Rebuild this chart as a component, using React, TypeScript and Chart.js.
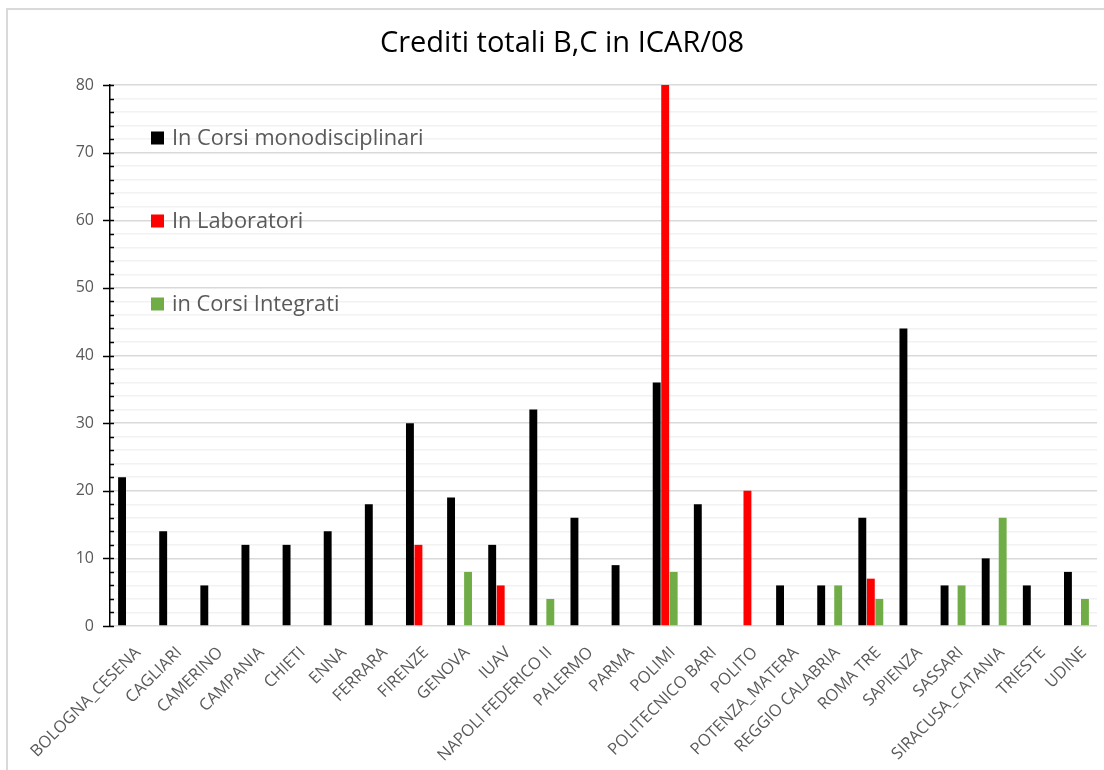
import React, { useEffect, useRef } from "react";
import { Chart, registerables } from "chart.js";

Chart.register(...registerables);

const chartTitle = "Crediti totali B,C in ICAR/08";

const categories = [
  "BOLOGNA_CESENA", "CAGLIARI", "CAMERINO", "CAMPANIA", "CHIETI", "ENNA",
  "FERRARA", "FIRENZE", "GENOVA", "IUAV", "NAPOLI FEDERICO II", "PALERMO",
  "PARMA", "POLIMI", "POLITECNICO BARI", "POLITO", "POTENZA_MATERA",
  "REGGIO CALABRIA", "ROMA TRE", "SAPIENZA", "SASSARI", "SIRACUSA_CATANIA",
  "TRIESTE", "UDINE",
];

const monodisciplinari = [22, 14, 6, 12, 12, 14, 18, 30, 19, 12, 32, 16, 9, 36, 18, null, 6, 6, 16, 44, 6, 10, 6, 8];
const laboratori = [null, null, null, null, null, null, null, 12, null, 6, null, null, null, 80, null, 20, null, null, 7, null, null, null, null, null];
const integrati = [null, null, null, null, null, null, null, null, 8, null, 4, null, null, 8, null, null, null, 6, 4, null, 6, 16, null, 4];

const seriesNames = ["In Corsi monodisciplinari", "In Laboratori", "in Corsi Integrati"];
const seriesColors = ["#000000", "#ff0000", "#70ad47"];

const yMin = 0;
const yMax = 80;
const yStep = 2;
const yMajorStep = 10;

const FONT = "'Open Sans', 'DejaVu Sans', sans-serif";

const customDraw = {
  id: "customDraw",
  beforeDraw(chart: any) {
    const ctx = chart.ctx;
    ctx.save();
    ctx.fillStyle = "#ffffff";
    ctx.fillRect(0, 0, chart.width, chart.height);
    ctx.fillStyle = "#d9d9d9";
    ctx.fillRect(6, 8, 2, chart.height - 8);
    ctx.fillRect(6, 8, chart.width - 6, 2);
    ctx.restore();
  },
  afterDatasetsDraw(chart: any) {
    const ctx = chart.ctx;
    const area = chart.chartArea;
    const x = chart.scales.x;
    const y = chart.scales.y;
    ctx.save();

    // title
    ctx.font = `29px ${FONT}`;
    ctx.fillStyle = "#000000";
    ctx.textAlign = "center";
    ctx.textBaseline = "alphabetic";
    ctx.fillText(chartTitle, chart.width / 2 + 10, 52);

    // y axis tick marks
    ctx.strokeStyle = "#000000";
    ctx.lineWidth = 1.5;
    for (let v = yMin; v <= yMax; v += yStep) {
      const py = Math.round(y.getPixelForValue(v)) + 0.5;
      ctx.beginPath();
      if (v % yMajorStep === 0) {
        ctx.moveTo(area.left - 7, py);
      } else {
        ctx.moveTo(area.left, py);
      }
      ctx.lineTo(area.left + 4, py);
      ctx.stroke();
    }

    // x category labels (rotated)
    ctx.font = `16.5px ${FONT}`;
    ctx.fillStyle = "#595959";
    ctx.textAlign = "right";
    ctx.textBaseline = "middle";
    categories.forEach((c, i) => {
      const px = x.getPixelForValue(i);
      ctx.save();
      ctx.translate(px + 7.5, area.bottom + 24);
      ctx.rotate(-Math.PI / 4);
      ctx.fillText(c, 0, 0);
      ctx.restore();
    });

    // legend inside plot area
    ctx.font = `21.8px ${FONT}`;
    ctx.textAlign = "left";
    ctx.textBaseline = "middle";
    seriesNames.forEach((name, i) => {
      const cy = area.top + 53 + 83 * i;
      ctx.fillStyle = seriesColors[i];
      ctx.fillRect(area.left + 41, cy - 6.5, 13, 13);
      ctx.fillStyle = "#595959";
      ctx.fillText(name, area.left + 62, cy + 1);
    });

    ctx.restore();
  },
};

export default function App() {
  const canvasRef = useRef<HTMLCanvasElement | null>(null);

  useEffect(() => {
    if (!canvasRef.current) return;
    const seriesData = [monodisciplinari, laboratori, integrati];
    const chart = new Chart(canvasRef.current, {
      type: "bar",
      data: {
        labels: categories,
        datasets: seriesNames.map((name, i) => ({
          label: name,
          data: seriesData[i],
          backgroundColor: seriesColors[i],
          borderWidth: 0,
          categoryPercentage: 0.62,
          barPercentage: 0.93,
        })),
      },
      options: {
        responsive: false,
        animation: false,
        devicePixelRatio: 1,
        layout: { padding: { top: 85, right: 7, left: 0, bottom: 0 } },
        plugins: {
          legend: { display: false },
          title: { display: false },
          tooltip: { enabled: false },
        },
        scales: {
          x: {
            grid: { display: false },
            border: { display: false },
            ticks: { display: false },
            afterFit: (s: any) => {
              s.height = 144;
            },
          },
          y: {
            min: yMin,
            max: yMax,
            ticks: {
              stepSize: yStep,
              autoSkip: false,
              padding: 16,
              color: "#595959",
              font: { family: FONT, size: 16 },
              callback: (v: any) => (Number(v) % yMajorStep === 0 ? String(v) : ""),
            },
            grid: {
              drawTicks: false,
              color: (c: any) =>
                c.tick && c.tick.value % yMajorStep === 0 ? "#d9d9d9" : "#f2f2f2",
              lineWidth: 1.5,
            },
            border: { display: true, color: "#000000", width: 1.5 },
            afterFit: (s: any) => {
              s.width = 110;
            },
          },
        },
      },
      plugins: [customDraw],
    });
    return () => chart.destroy();
  }, []);

  return (
    <div style={{ position: "absolute", left: 0, top: 0, width: 1104, height: 770 }}>
      <canvas ref={canvasRef} width={1104} height={770} style={{ display: "block" }} />
    </div>
  );
}
